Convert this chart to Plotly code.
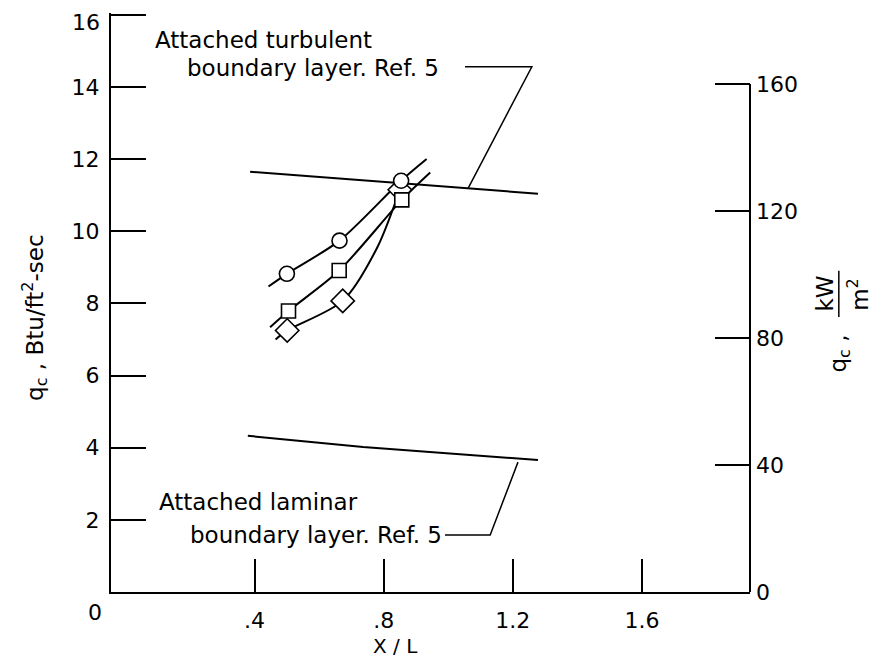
import plotly.graph_objects as go

# ---- data ----
# measured points, X/L and q_c (Btu/ft^2-sec)
circ_x = [0.50, 0.663, 0.854]
circ_y = [8.82, 9.74, 11.40]
sq_x = [0.505, 0.662, 0.856]
sq_y = [7.79, 8.91, 10.87]
dia_x = [0.501, 0.673, 0.850]
dia_y = [7.25, 8.07, 11.15]

# faired curves through each set
circ_fx = [0.443, 0.50, 0.663, 0.854, 0.933]
circ_fy = [8.47, 8.82, 9.74, 11.40, 12.00]
sq_fx = [0.448, 0.505, 0.662, 0.856, 0.944]
sq_fy = [7.34, 7.79, 8.91, 10.87, 11.63]
dia_fx = [0.465, 0.501, 0.673, 0.78, 0.850]
dia_fy = [7.00, 7.25, 8.07, 9.55, 11.15]

# reference theory lines (Ref. 5)
turb_x = [0.386, 1.278]
turb_y = [11.65, 11.04]
lam_x = [0.379, 0.736, 1.278]
lam_y = [4.33, 4.02, 3.66]

# leader lines for the labels
turb_lead_x = [1.052, 1.259, 1.061]
turb_lead_y = [14.56, 14.56, 11.18]
lam_lead_x = [0.99, 1.13, 1.216]
lam_lead_y = [1.58, 1.58, 3.60]

# axis ticks
x_ticks = [0.4, 0.8, 1.2, 1.6]
x_ticktext = [".4", ".8", "1.2", "1.6"]
y_ticks = [2, 4, 6, 8, 10, 12, 14, 16]
y_ticktext = ["2", "4", "6", "8", "10", "12", "14", ""]   # "16" drawn as a text below
y2_ticks = [0, 40, 80, 120, 160]
KW_PER_BTU = 11.36
Y_TOP = 16.05

FONT = "DejaVu Sans"
FS = 23
TFS = 22

fig = go.Figure()

line_style = dict(color="black", width=2)

for fx, fy in [(circ_fx, circ_fy), (sq_fx, sq_fy), (dia_fx, dia_fy)]:
    fig.add_trace(go.Scatter(x=fx, y=fy, mode="lines", line=dict(color="black", width=2, shape="spline", smoothing=0.8),
                             showlegend=False, hoverinfo="skip"))

fig.add_trace(go.Scatter(x=turb_x, y=turb_y, mode="lines", line=line_style, showlegend=False))
fig.add_trace(go.Scatter(x=lam_x, y=lam_y, mode="lines", line=line_style, showlegend=False))
fig.add_trace(go.Scatter(x=turb_lead_x, y=turb_lead_y, mode="lines", line=dict(color="black", width=1.5), showlegend=False))
fig.add_trace(go.Scatter(x=lam_lead_x, y=lam_lead_y, mode="lines", line=dict(color="black", width=1.5), showlegend=False))

for xs, ys, sym, sz in [(dia_x, dia_y, "diamond", 18), (sq_x, sq_y, "square", 14), (circ_x, circ_y, "circle", 15)]:
    fig.add_trace(go.Scatter(x=xs, y=ys, mode="markers",
                             marker=dict(symbol=sym, size=sz, color="white", line=dict(color="black", width=1.6)),
                             showlegend=False))

# invisible trace to activate right axis
fig.add_trace(go.Scatter(x=[0], y=[0], yaxis="y2", mode="markers", marker=dict(opacity=0), showlegend=False, hoverinfo="skip"))

fig.update_layout(
    width=866, height=653,
    margin=dict(l=103, r=124, t=5, b=69, autoexpand=False),
    plot_bgcolor="white", paper_bgcolor="white",
    font=dict(family=FONT, size=FS, color="black"),
    xaxis=dict(range=[-0.045, 1.935], showgrid=False, zeroline=False, showline=True, linecolor="black", linewidth=2,
               ticks="inside", ticklen=33, tickwidth=1.5, tickcolor="black", automargin=False,
               tickvals=x_ticks, ticktext=x_ticktext, ticklabelstandoff=8, tickfont=dict(size=TFS)),
    yaxis=dict(range=[0, Y_TOP], showgrid=False, zeroline=False, showline=True, linecolor="black", linewidth=2,
               ticks="inside", ticklen=35, tickwidth=1.5, tickcolor="black", tickvals=y_ticks, ticktext=y_ticktext,
               ticklabelstandoff=5, automargin=False, tickfont=dict(size=TFS)),
    yaxis2=dict(range=[0, Y_TOP * KW_PER_BTU], overlaying="y", side="right", showgrid=False, zeroline=False,
                showline=False, ticks="inside", ticklen=35, tickwidth=1.5, tickcolor="black",
                tickvals=y2_ticks, ticklabelstandoff=5, automargin=False, tickfont=dict(size=TFS)),
)

# right axis line only up to 160
fig.add_shape(type="line", xref="paper", yref="y2", x0=1, x1=1, y0=0, y1=160, line=dict(color="black", width=2))
# fraction bar for kW/m^2
fig.add_shape(type="line", xref="paper", yref="paper", x0=1.139, x1=1.139, y0=0.475, y1=0.555, line=dict(color="black", width=1.5))

ann = [
    dict(x=0.085, y=15.31, xref="x", yref="y", text="Attached turbulent", xanchor="left", yanchor="middle"),
    dict(x=0.184, y=14.53, xref="x", yref="y", text="boundary layer. Ref. 5", xanchor="left", yanchor="middle"),
    dict(x=0.098, y=2.50, xref="x", yref="y", text="Attached laminar", xanchor="left", yanchor="middle"),
    dict(x=0.195, y=1.58, xref="x", yref="y", text="boundary layer. Ref. 5", xanchor="left", yanchor="middle"),
    dict(x=-0.014, y=1.0086, xref="paper", yref="paper", text="16", xanchor="right", yanchor="top", font=dict(size=TFS)),
    dict(x=-0.025, y=-0.035, xref="paper", yref="paper", text="0", xanchor="center", yanchor="middle", font=dict(size=TFS)),
    dict(x=0.835, y=-0.118, xref="x", yref="paper", text="X / L", xanchor="center", yanchor="bottom", font=dict(size=20)),
    dict(x=-0.119, y=0.475, xref="paper", yref="paper", text="q<sub>c</sub> , Btu/ft<sup>2</sup>-sec", textangle=-90,
         xanchor="center", yanchor="middle"),
    dict(x=1.141, y=0.412, xref="paper", yref="paper", text="q<sub>c</sub> ,", textangle=-90, xanchor="center", yanchor="middle"),
    dict(x=1.117, y=0.515, xref="paper", yref="paper", text="kW", textangle=-90, xanchor="center", yanchor="middle"),
    dict(x=1.169, y=0.515, xref="paper", yref="paper", text="m<sup>2</sup>", textangle=-90, xanchor="center", yanchor="middle"),
]
for a in ann:
    a["showarrow"] = False
    fig.add_annotation(**a)

fig.write_html("out.html")
